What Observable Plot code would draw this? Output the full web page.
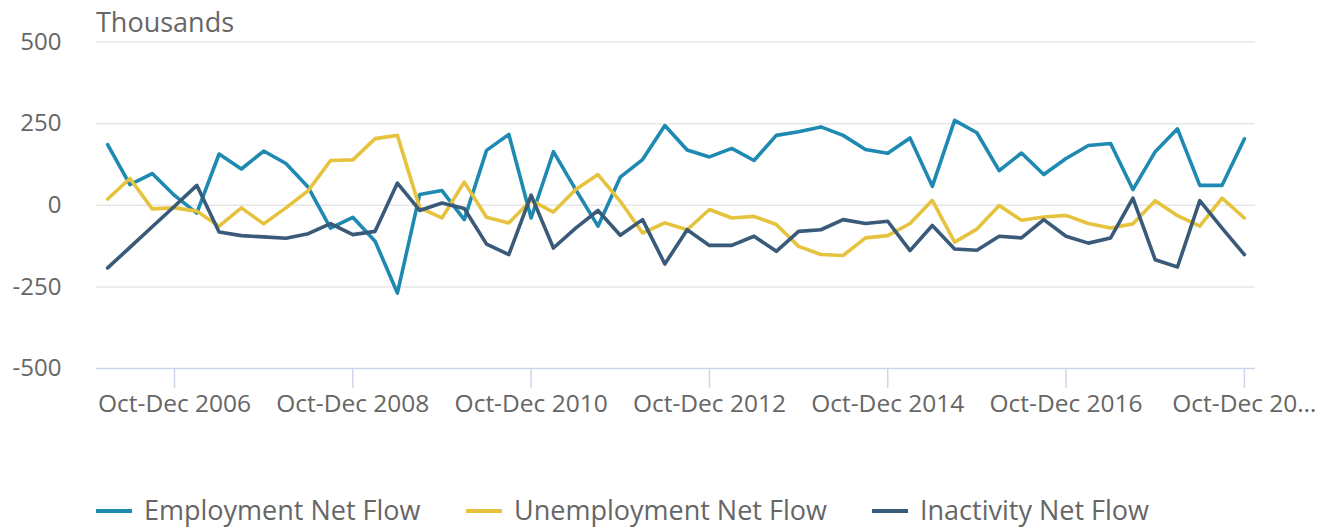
<!DOCTYPE html>
<html>
<head>
<meta charset="utf-8">
<script src="https://cdn.jsdelivr.net/npm/d3@7"></script>
<script src="https://cdn.jsdelivr.net/npm/@observablehq/plot@0.6"></script>
<style>
  html, body { margin: 0; padding: 0; background: #fff; }
  body { width: 1320px; height: 531px; overflow: hidden; font-family: "Open Sans", sans-serif; }
  #title { position: relative; height: 20px; }
  #title span { position: absolute; left: 96px; top: 7.5px; font-size: 27px; line-height: 27px; color: #666; white-space: nowrap; }
  #chart svg { display: block; }
  #legend { position: relative; height: 61px; }
  .item { position: absolute; top: 0; height: 61px; }
  .sw { position: absolute; top: 39px; left: 0; width: 36px; height: 4px; }
  .lab { position: absolute; top: 26px; left: 48px; font-size: 27px; line-height: 27px; color: #666; white-space: nowrap; }
</style>
</head>
<body>
<div id="title"><span>Thousands</span></div>
<div id="chart"></div>
<div id="legend"></div>
<script>
const quarters = [
  "Jan-Mar 2006","Apr-Jun 2006","Jul-Sep 2006","Oct-Dec 2006",
  "Jan-Mar 2007","Apr-Jun 2007","Jul-Sep 2007","Oct-Dec 2007",
  "Jan-Mar 2008","Apr-Jun 2008","Jul-Sep 2008","Oct-Dec 2008",
  "Jan-Mar 2009","Apr-Jun 2009","Jul-Sep 2009","Oct-Dec 2009",
  "Jan-Mar 2010","Apr-Jun 2010","Jul-Sep 2010","Oct-Dec 2010",
  "Jan-Mar 2011","Apr-Jun 2011","Jul-Sep 2011","Oct-Dec 2011",
  "Jan-Mar 2012","Apr-Jun 2012","Jul-Sep 2012","Oct-Dec 2012",
  "Jan-Mar 2013","Apr-Jun 2013","Jul-Sep 2013","Oct-Dec 2013",
  "Jan-Mar 2014","Apr-Jun 2014","Jul-Sep 2014","Oct-Dec 2014",
  "Jan-Mar 2015","Apr-Jun 2015","Jul-Sep 2015","Oct-Dec 2015",
  "Jan-Mar 2016","Apr-Jun 2016","Jul-Sep 2016","Oct-Dec 2016",
  "Jan-Mar 2017","Apr-Jun 2017","Jul-Sep 2017","Oct-Dec 2017",
  "Jan-Mar 2018","Apr-Jun 2018","Jul-Sep 2018","Oct-Dec 2018"
];
const employment = [
  186, 63, 97, 30, -24, 157, 111, 166, 128, 55, -70, -37,
  -110, -269, 33, 45, -44, 168, 217, -39, 164, 48, -64, 86,
  140, 244, 169, 148, 174, 137, 214, 225, 240, 214, 171, 159,
  206, 58, 260, 222, 106, 160, 94, 143, 183, 189, 48, 164,
  234, 61, 61, 203
];
const unemployment = [
  19, 82, -11, -8, -18, -64, -8, -57, -8, 45, 137, 139,
  204, 214, -8, -39, 71, -37, -54, 15, -21, 48, 94, 12,
  -85, -54, -75, -13, -39, -34, -59, -126, -151, -154, -100, -93,
  -56, 15, -113, -73, -1, -46, -36, -31, -56, -70, -57, 14,
  -32, -64, 22, -39
];
const inactivity = [
  -192, -129, -66, -3, 61, -82, -93, -97, -101, -87, -56, -90,
  -80, 68, -16, 7, -10, -119, -151, 31, -131, -70, -16, -92,
  -44, -180, -75, -123, -123, -95, -141, -80, -75, -44, -56, -49,
  -139, -62, -134, -138, -95, -100, -44, -95, -116, -100, 22, -167,
  -189, 14, -70, -151
];
const seriesNames = ["Employment Net Flow", "Unemployment Net Flow", "Inactivity Net Flow"];
const seriesColors = ["#1e8ab1", "#e6c33e", "#395a78"];
const yTicks = [-500, -250, 0, 250, 500];
const xTickQuarters = ["Oct-Dec 2006","Oct-Dec 2008","Oct-Dec 2010","Oct-Dec 2012","Oct-Dec 2014","Oct-Dec 2016","Oct-Dec 2018"];
const xTickLabels = ["Oct-Dec 2006","Oct-Dec 2008","Oct-Dec 2010","Oct-Dec 2012","Oct-Dec 2014","Oct-Dec 2016","Oct-Dec 20\u2026"];

const seriesValues = [employment, unemployment, inactivity];
const rows = [];
seriesNames.forEach((s, k) => quarters.forEach((q, i) => rows.push({q, v: seriesValues[k][i], s})));

const chart = Plot.plot({
  width: 1320,
  height: 450,
  marginLeft: 96,
  marginRight: 65,
  marginTop: 21.5,
  marginBottom: 102,
  style: {fontFamily: "Open Sans, sans-serif", fontSize: "24px", color: "#666", background: "#fff"},
  x: {type: "point", domain: quarters, padding: 0.5, round: false, label: null},
  y: {domain: [-500, 500], label: null},
  color: {domain: seriesNames, range: seriesColors},
  marks: [
    Plot.ruleY(yTicks.filter(d => d !== -500), {stroke: "#e6e6e6", strokeWidth: 1.5}),
    Plot.ruleY([-500], {stroke: "#ccd6eb", strokeWidth: 1.5}),
    Plot.axisY(yTicks, {tickSize: 0, tickPadding: 35, fontSize: 24, fill: "#666", label: null, tickFormat: d => String(d)}),
    Plot.axisX(xTickQuarters, {tickSize: 20, tickPadding: 6, stroke: "#ccd6eb", strokeWidth: 1.5, fill: "#666", fontSize: 24.5, label: null,
      tickFormat: d => xTickLabels[xTickQuarters.indexOf(d)]}),
    Plot.line(rows, {x: "q", y: "v", z: "s", stroke: "s", strokeWidth: 3.6, strokeLinejoin: "round", strokeLinecap: "round"})
  ]
});
document.getElementById("chart").appendChild(chart);

const legend = document.getElementById("legend");
const lefts = [96, 466, 872];
seriesNames.forEach((s, k) => {
  const it = document.createElement("div");
  it.className = "item";
  it.style.left = lefts[k] + "px";
  it.innerHTML = `<div class="sw" style="background:${seriesColors[k]}"></div><div class="lab">${s}</div>`;
  legend.appendChild(it);
});
</script>
</body>
</html>
